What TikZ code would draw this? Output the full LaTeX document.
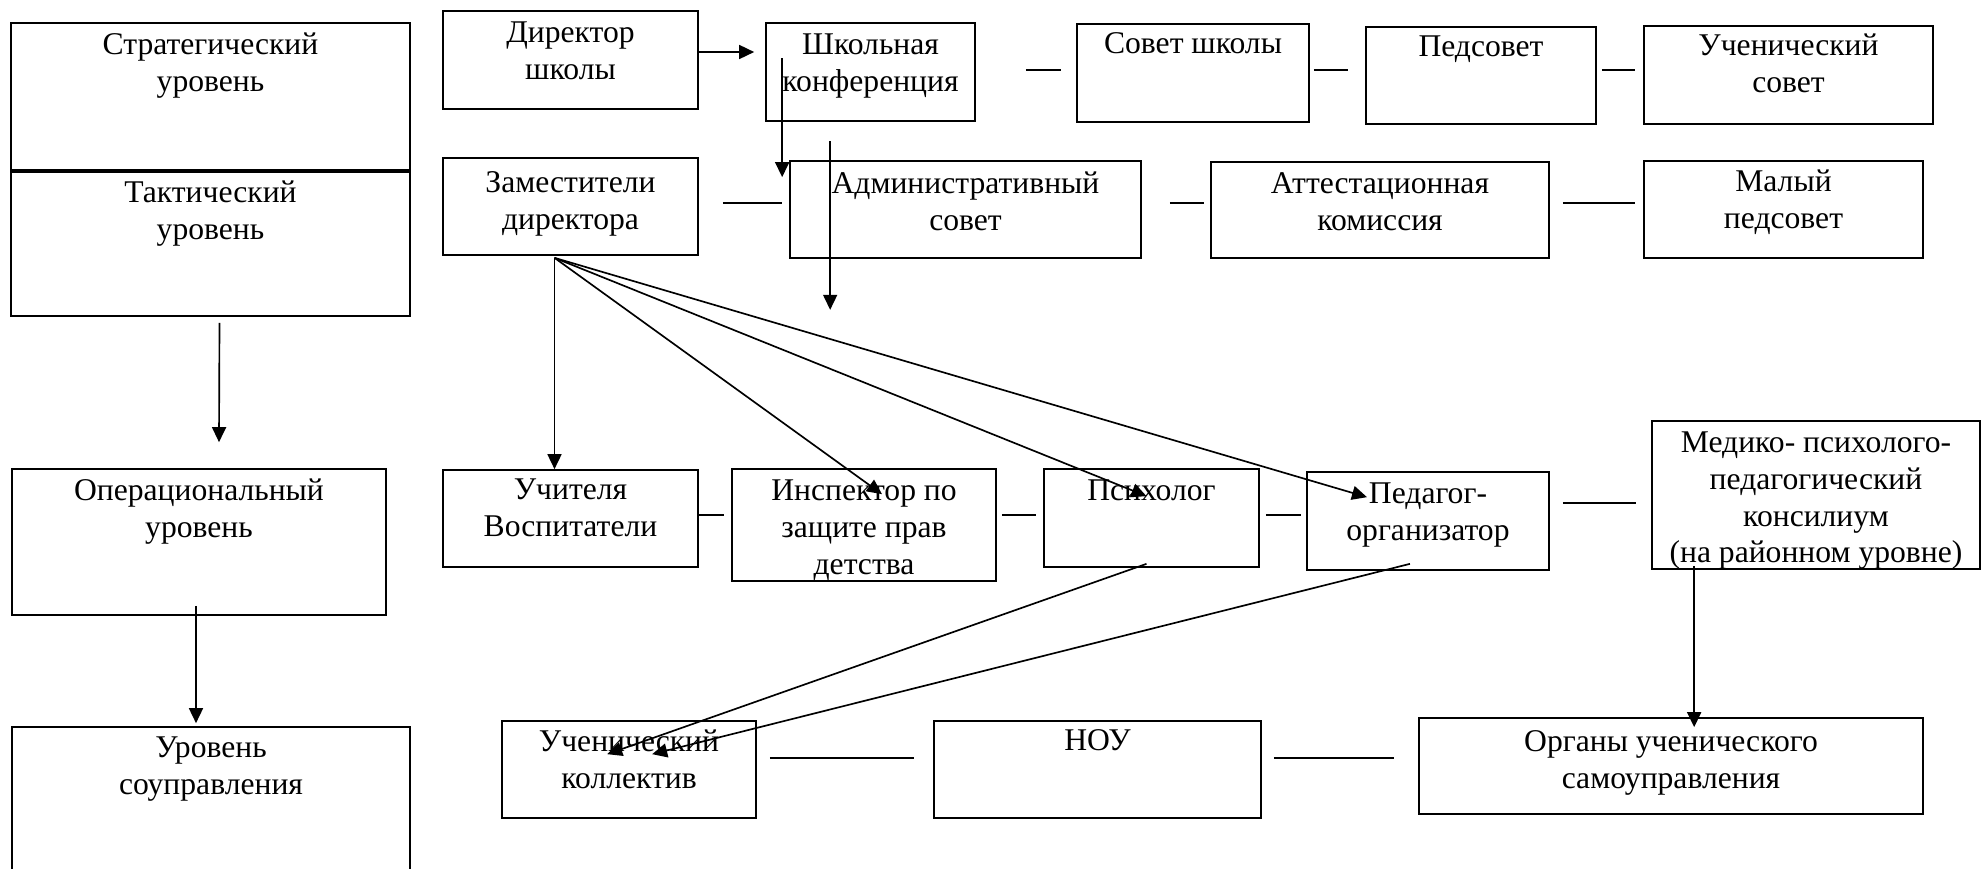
\documentclass[tikz,border=0pt]{standalone}
\usepackage{fontspec}
\setmainfont{Liberation Serif}
\usetikzlibrary{calc}
\usetikzlibrary{fit}
\usetikzlibrary{arrows.meta}

\begin{document}
\begin{tikzpicture}[x=0.02cm, y=-0.02cm]
    \tikzstyle{blok} = [draw, line width=0.95pt, inner sep=0pt]
    \tikzstyle{nadpis} = [anchor=north, inner sep=0pt, align=center, font=\fontsize{18}{21}\selectfont]
    \tikzstyle{strelka} = [line width=0.95pt, -{Triangle[length=0.3cm, width=0.28cm]}]
    \tikzstyle{liniya} = [line width=0.95pt]
    \useasboundingbox (0,0) rectangle (1982,869);

    % levels on the left
    \node[blok, fit={(11,23) (410,170)}] (strat) {};
    \node[blok, fit={(11,170) (410,316)}] (takt) {};
    \node[blok, fit={(12,469) (386,615)}] (oper) {};
    \node[blok, fit={(12,727) (410,880)}] (uprav) {};
    \draw[line width=1.9pt] (strat.south west) -- (strat.south east);
    \node[nadpis] at ($(strat.north)+(0,10)$) {Стратегический\\уровень};
    \node[nadpis] at ($(takt.north)+(0,11)$) {Тактический\\уровень};
    \node[nadpis] at ($(oper.north)+(0,10)$) {Операциональный\\уровень};
    \node[nadpis] at ($(uprav.north)+(0,10)$) {Уровень\\соуправления};
    \draw[strelka] ($(takt.south)+(9,6)$) -- ($(oper.north)+(20,-26)$);
    \draw[strelka] ($(oper.south)+(-3,-10)$) -- ($(uprav.north)+(-15,-3)$);

    % first row
    \node[blok, fit={(443,11) (698,109)}] (dir) {};
    \node[blok, fit={(766,23) (975,121)}] (shk) {};
    \node[blok, fit={(1077,24) (1309,122)}] (sovet) {};
    \node[blok, fit={(1366,27) (1596,124)}] (ped) {};
    \node[blok, fit={(1644,26) (1933,124)}] (uchsov) {};
    \node[nadpis] at ($(dir.north)+(0,11)$) {Директор\\школы};
    \node[nadpis] at ($(shk.north)+(0,11)$) {Школьная\\конференция};
    \node[nadpis] at ($(sovet.north)+(0,9)$) {Совет школы};
    \node[nadpis] at ($(ped.north)+(0,9)$) {Педсовет};
    \node[nadpis] at ($(uchsov.north)+(0,8)$) {Ученический\\совет};

    % second row
    \node[blok, fit={(443,158) (698,255)}] (zam) {};
    \node[blok, fit={(790,161) (1141,258)}] (adm) {};
    \node[blok, fit={(1211,162) (1549,258)}] (att) {};
    \node[blok, fit={(1644,161) (1923,258)}] (malyi) {};
    \node[nadpis] at ($(zam.north)+(0,14)$) {Заместители\\директора};
    \node[nadpis] at ($(adm.north)+(0,11)$) {Административный\\совет};
    \node[nadpis] at ($(att.north)+(0,11)$) {Аттестационная\\комиссия};
    \node[nadpis] at ($(malyi.north)+(0,9)$) {Малый\\педсовет};

    % third row
    \node[blok, fit={(443,470) (698,567)}] (uchit) {};
    \node[blok, fit={(732,469) (996,581)}] (insp) {};
    \node[blok, fit={(1044,469) (1259,567)}] (psih) {};
    \node[blok, fit={(1307,472) (1549,570)}] (pedorg) {};
    \node[blok, fit={(1652,421) (1980,569)}] (mppk) {};
    \node[nadpis] at ($(uchit.north)+(0,9)$) {Учителя\\Воспитатели};
    \node[nadpis] at ($(insp.north)+(0,11)$) {Инспектор по\\защите прав\\детства};
    \node[nadpis] at ($(psih.north)+(0,11)$) {Психолог};
    \node[nadpis] at ($(pedorg.north)+(0,11)$) {Педагог-\\организатор};
    \node[nadpis] at ($(mppk.north)+(0,11)$) {Медико- психолого-\\педагогический\\консилиум\\(на районном уровне)};

    % fourth row
    \node[blok, fit={(502,721) (756,818)}] (uchkol) {};
    \node[blok, fit={(934,721) (1261,818)}] (nou) {};
    \node[blok, fit={(1419,718) (1923,814)}] (organy) {};
    \node[nadpis] at ($(uchkol.north)+(0,9)$) {Ученический\\коллектив};
    \node[nadpis] at ($(nou.north)+(0,9)$) {НОУ};
    \node[nadpis] at ($(organy.north)+(0,13)$) {Органы ученического\\самоуправления};

    % dashes between boxes
    \draw[liniya] ($(shk.east)+(50,-2)$) -- +(35,0);
    \draw[liniya] ($(sovet.east)+(4,-3)$) -- +(34,0);
    \draw[liniya] ($(ped.east)+(5,-5.5)$) -- +(33,0);
    \draw[liniya] ($(zam.east)+(24,-3.5)$) -- +(59,0);
    \draw[liniya] ($(adm.east)+(28,-6.5)$) -- +(34,0);
    \draw[liniya] ($(att.east)+(13,-7)$) -- +(72,0);
    \draw[liniya] ($(uchit.east)+(0,-3.5)$) -- +(25,0);
    \draw[liniya] ($(insp.east)+(5,-10)$) -- +(34,0);
    \draw[liniya] ($(psih.east)+(6,-3)$) -- +(35,0);
    \draw[liniya] ($(pedorg.east)+(13,-18)$) -- +(73,0);
    \draw[liniya] ($(uchkol.east)+(13,-11.5)$) -- +(144,0);
    \draw[liniya] ($(nou.east)+(12,-11.5)$) -- +(120,0);

    % arrows
    \draw[strelka] ($(dir.east)+(0,-8)$) -- ($(shk.west)+(-11,-20)$);
    \draw[strelka] ($(shk.north west)+(17,36)$) -- ($(adm.north west)+(-7,17)$);
    \draw[strelka] ($(adm.north west)+(41,-19)$) -- ($(adm.south west)+(41,51)$);
    \draw[strelka] ($(zam.south)+(-16,2)$) -- ($(uchit.north)+(-16,0)$);
    \draw[strelka] ($(zam.south)+(-16,2)$) -- ($(insp.north)+(18,26)$);
    \draw[strelka] ($(zam.south)+(-16,2)$) -- ($(psih.north)+(-5,28)$);
    \draw[strelka] ($(zam.south)+(-16,2)$) -- ($(pedorg.north)+(-61,26)$);
    \draw[strelka] ($(psih.south)+(-5,-4)$) -- ($(uchkol.north west)+(106,34)$);
    \draw[strelka] ($(pedorg.south)+(-18,-7)$) -- ($(uchkol.north west)+(151,34)$);
    \draw[strelka] ($(mppk.south west)+(43,-4)$) -- ($(organy.north west)+(276,10)$);
\end{tikzpicture}
\end{document}
